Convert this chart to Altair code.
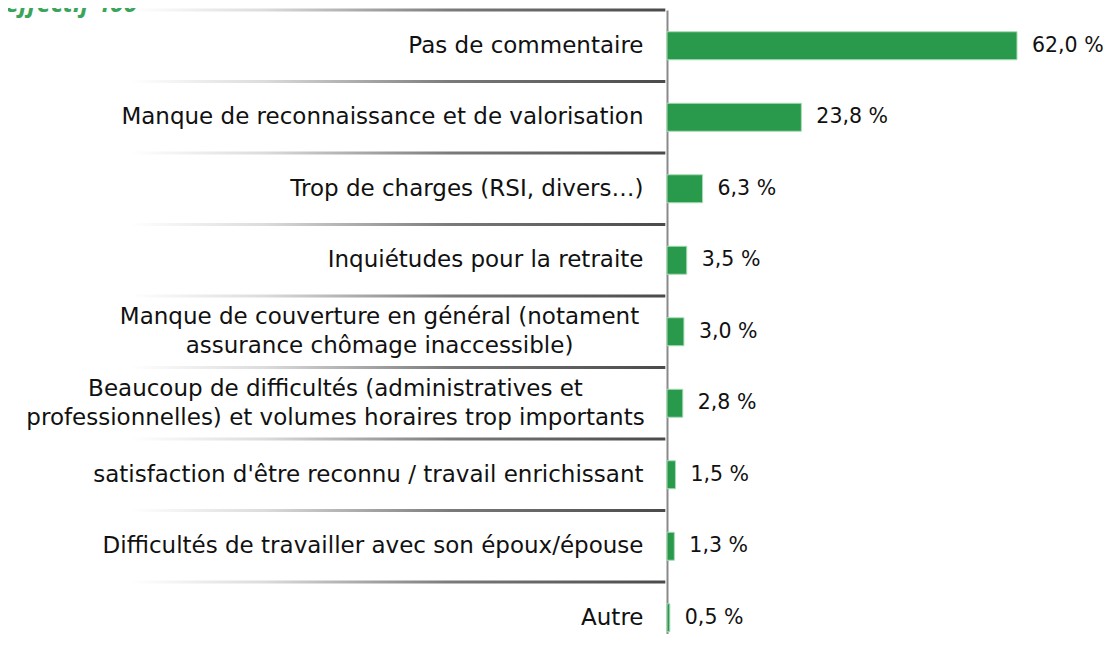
import altair as alt
import pandas as pd

categories = [
    "Pas de commentaire",
    "Manque de reconnaissance et de valorisation",
    "Trop de charges (RSI, divers…)",
    "Inquiétudes pour la retraite",
    "Manque de couverture en général (notament|assurance chômage inaccessible)",
    "Beaucoup de difficultés (administratives et|professionnelles) et volumes horaires trop importants",
    "satisfaction d'être reconnu / travail enrichissant",
    "Difficultés de travailler avec son époux/épouse",
    "Autre",
]
values = [62.0, 23.8, 6.3, 3.5, 3.0, 2.8, 1.5, 1.3, 0.5]
title_text = "effectif 400"

df = pd.DataFrame({"cat": categories, "v": values})

FONT = "DejaVu Sans"
STEP = 71.5
N = len(categories)
TWO_LINES = "indexof(datum.value, '|') >= 0"

y_enc = alt.Y(
    "cat:N",
    sort=categories,
    scale=alt.Scale(range=[0, STEP * N], paddingInner=0, paddingOuter=0),
    axis=alt.Axis(
        title=None,
        ticks=False,
        grid=False,
        domain=True,
        domainColor="#8a8a8a",
        domainWidth=2,
        labelFont=FONT,
        labelFontSize=23,
        labelColor="#111111",
        labelLimit=0,
        labelLineHeight=29,
        labelOffset={"condition": {"test": TWO_LINES, "value": -14.5}, "value": 0},
        labelAlign={"condition": {"test": TWO_LINES, "value": "center"}, "value": "right"},
        labelPadding={
            "condition": [
                {"test": "indexof(datum.value, 'notament') >= 0", "value": 288},
                {"test": "indexof(datum.value, 'Beaucoup') >= 0", "value": 332},
            ],
            "value": 24,
        },
        labelExpr="split(datum.label, '|')",
    ),
)
x_scale = alt.Scale(domain=[0, 62], nice=False, zero=True)

base = alt.Chart(df)

gradient = alt.Gradient(
    gradient="linear",
    x1=0, x2=1, y1=0, y2=0,
    stops=[
        alt.GradientStop(offset=0, color="#ffffff"),
        alt.GradientStop(offset=0.25, color="#dcdcdc"),
        alt.GradientStop(offset=0.6, color="#7a7a7a"),
        alt.GradientStop(offset=1, color="#4a4a4a"),
    ],
)

separators = base.mark_bar(size=3, yOffset=-STEP / 2, fill=gradient).encode(
    y=y_enc,
    x=alt.datum(-95, scale=x_scale, axis=None),
    x2=alt.datum(-0.3),
)

bars = base.mark_bar(size=28, color="#29994c", stroke="#a8dcb5", strokeWidth=1).encode(
    y=y_enc,
    x=alt.X("v:Q", scale=x_scale, axis=None),
)

labels = base.transform_calculate(
    txt="replace(format(datum.v, '.1f'), '.', ',') + ' %'"
).mark_text(align="left", baseline="middle", dx=15, font=FONT, fontSize=20.5, color="#111111").encode(
    y=y_enc,
    x=alt.X("v:Q", scale=x_scale, axis=None),
    text="txt:N",
)

chart = alt.layer(separators, bars, labels).properties(
    width=350,
    height=624,
    padding={"left": 659, "top": 2, "right": 88, "bottom": 0},
    autosize=alt.AutoSizeParams(type="none"),
    title=alt.TitleParams(
        title_text,
        anchor="start",
        frame="group",
        dx=-662,
        dy=10,
        offset=-18,
        baseline="alphabetic",
        font="Open Sans",
        fontSize=25,
        fontStyle="italic",
        fontWeight="bold",
        color="#3aa55a",
    ),
).configure_view(stroke=None)

chart.save("out.html", embed_options={"renderer": "svg", "actions": False})
